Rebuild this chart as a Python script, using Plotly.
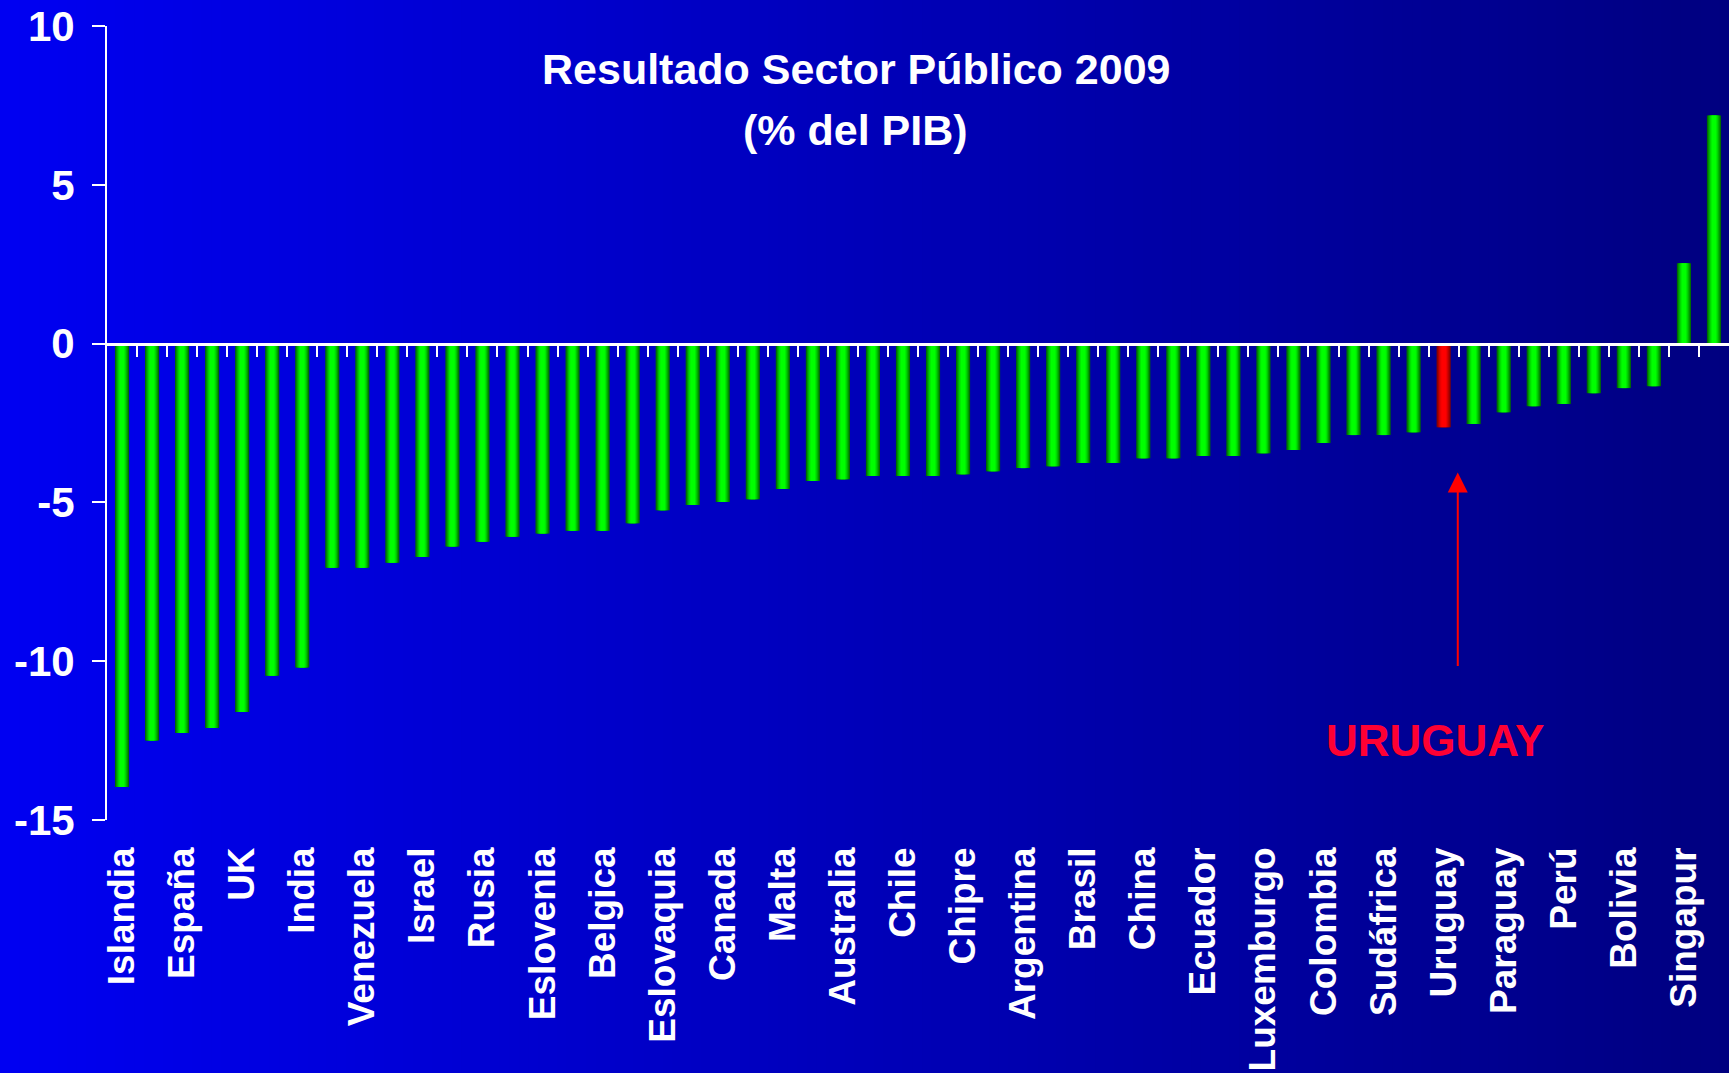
import plotly.graph_objects as go

# ---------------- data ----------------
countries = ["Islandia", "", "España", "", "UK", "", "India", "", "Venezuela", "",
             "Israel", "", "Rusia", "", "Eslovenia", "", "Belgica", "", "Eslovaquia", "",
             "Canada", "", "Malta", "", "Australia", "", "Chile", "", "Chipre", "",
             "Argentina", "", "Brasil", "", "China", "", "Ecuador", "", "Luxemburgo", "",
             "Colombia", "", "Sudáfrica", "", "Uruguay", "", "Paraguay", "", "Perú", "",
             "Bolivia", "", "Singapur", ""]
resultado = [-13.96, -12.5, -12.26, -12.1, -11.6, -10.46, -10.2, -7.06, -7.06, -6.9,
             -6.72, -6.39, -6.24, -6.08, -5.98, -5.89, -5.89, -5.66, -5.25, -5.08,
             -4.99, -4.9, -4.58, -4.33, -4.27, -4.17, -4.17, -4.17, -4.11, -4.02,
             -3.92, -3.86, -3.76, -3.76, -3.61, -3.61, -3.54, -3.54, -3.45, -3.35,
             -3.13, -2.88, -2.88, -2.79, -2.63, -2.53, -2.16, -1.97, -1.9, -1.56,
             -1.4, -1.34, 2.53, 7.18]
highlight = "Uruguay"
y_ticks = [10, 5, 0, -5, -10, -15]
title_lines = ["Resultado Sector Público 2009", "(% del PIB)"]
arrow_label = "URUGUAY"

# ---------------- figure ----------------
W, H = 1729, 1073
L, R, T, B = 107, 0, 26, 253
plot_w, plot_h = W - L - R, H - T - B

x = list(range(len(countries)))
hi_idx = countries.index(highlight)
FONT = "Liberation Sans, Arial, Helvetica, sans-serif"

fig = go.Figure()

green_shades = ["#006e00", "#009a00", "#00c400", "#00e800", "#00ff00"]
red_shades = ["#860000", "#ac0000", "#d00000", "#ee0000", "#ff0000"]
widths = [0.47, 0.39, 0.31, 0.23, 0.15]
for k, w in enumerate(widths):
    cols = [red_shades[k] if i == hi_idx else green_shades[k] for i in x]
    fig.add_trace(go.Bar(x=x, y=resultado, width=w, marker=dict(color=cols, line=dict(width=0)),
                         showlegend=False, hoverinfo="skip"))

# invisible trace for the zero-line tick axis
fig.add_trace(go.Scatter(x=[None], y=[None], xaxis="x2", showlegend=False, hoverinfo="skip"))

# background gradient (paper-referenced strips)
n_strips = 180
px_left = -L / plot_w
px_right = (W - L) / plot_w
y_bot = -B / plot_h
y_top = 1 + T / plot_h
shapes = []
for k in range(n_strips):
    x0 = px_left + (px_right - px_left) * k / n_strips
    x1 = px_left + (px_right - px_left) * (k + 1) / n_strips + 0.002
    frac = (k + 0.5) / n_strips
    b = int(round(242 - 114 * frac))
    shapes.append(dict(type="rect", xref="paper", yref="paper", x0=x0, x1=x1, y0=y_bot, y1=y_top,
                       fillcolor=f"rgb(0,0,{b})", line=dict(width=0), layer="below"))

label_vals = [i for i in x if countries[i]]
label_text = [countries[i] for i in label_vals]
n = len(countries)

fig.update_layout(
    width=W, height=H,
    margin=dict(l=L, r=R, t=T, b=B, pad=0),
    paper_bgcolor="rgb(0,0,184)",
    plot_bgcolor="rgba(0,0,0,0)",
    barmode="overlay",
    shapes=shapes,
    showlegend=False,
    font=dict(family=FONT, color="white"),
    xaxis=dict(range=[-0.5, n - 0.5], tickmode="array", tickvals=label_vals, ticktext=label_text,
               tickangle=-90, ticks="", showline=False, showgrid=False, zeroline=False,
               tickfont=dict(family=FONT, size=37, color="white", weight="bold"),
               ticklabelstandoff=19),
    xaxis2=dict(range=[-0.5, n - 0.5], overlaying="x", anchor="free", position=0.6, side="bottom",
                tickmode="array", tickvals=[i + 0.5 for i in x[:-1]], showticklabels=False,
                ticks="outside", ticklen=11, tickwidth=2, tickcolor="white",
                showline=True, linecolor="white", linewidth=3, showgrid=False, zeroline=False),
    yaxis=dict(range=[-15, 10], tickmode="array", tickvals=y_ticks, ticktext=[str(v) for v in y_ticks],
               ticks="outside", ticklen=13, tickwidth=2, tickcolor="white",
               showline=True, linecolor="white", linewidth=2, showgrid=False, zeroline=False,
               tickfont=dict(family=FONT, size=42, color="white", weight="bold"),
               ticklabelstandoff=9),
)

# title lines
fig.add_annotation(x=24.43, y=8.66, xref="x", yref="y", text=title_lines[0], showarrow=False,
                   font=dict(family=FONT, size=43, color="white", weight="bold"),
                   xanchor="center", yanchor="middle")
fig.add_annotation(x=24.43, y=6.71, xref="x", yref="y", text=title_lines[1], showarrow=False,
                   font=dict(family=FONT, size=43, color="white", weight="bold"),
                   xanchor="center", yanchor="middle")

# arrow + label for the highlighted country
fig.add_annotation(x=hi_idx + 0.47, y=-4.06, xref="x", yref="y",
                   ax=hi_idx + 0.47, ay=-10.2, axref="x", ayref="y",
                   text="", showarrow=True, arrowhead=2, arrowsize=2, arrowwidth=2,
                   arrowcolor="#ff0000", standoff=0, startstandoff=0)
fig.add_annotation(x=hi_idx - 0.3, y=-12.5, xref="x", yref="y", text=arrow_label, showarrow=False,
                   font=dict(family=FONT, size=44, color="#ff0033", weight="bold"),
                   xanchor="center", yanchor="middle")

fig.write_html("out.html", config={"displayModeBar": False},
               post_script="document.body.style.margin='0px';document.body.style.overflow='hidden';")
